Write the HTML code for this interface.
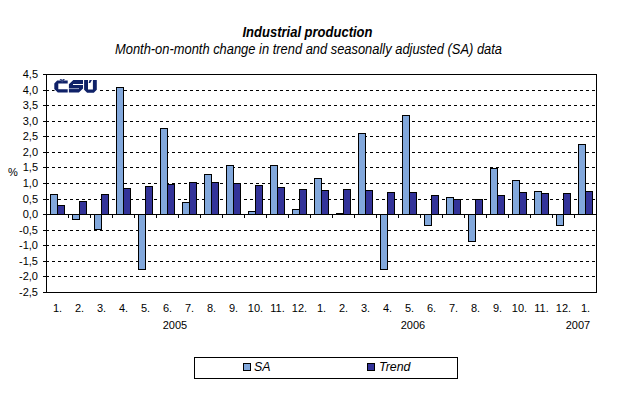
<!DOCTYPE html>
<html><head><meta charset="utf-8">
<style>
html,body{margin:0;padding:0;background:#fff;}
body{width:618px;height:397px;overflow:hidden;}
svg{display:block;}
text{font-family:"Liberation Sans",sans-serif;fill:#000;}
.ax{font-size:11px;}
.title{font-size:14.5px;font-weight:bold;font-style:italic;}
.sub{font-size:14px;font-style:italic;}
.leg{font-size:12.4px;font-style:italic;}
</style></head>
<body>
<svg width="618" height="397" viewBox="0 0 618 397">
<rect x="0" y="0" width="618" height="397" fill="#fff"/>
<g shape-rendering="crispEdges">
<line x1="46" y1="90.5" x2="596" y2="90.5" stroke="#000" stroke-width="1" stroke-dasharray="3 3"/>
<line x1="46" y1="105.5" x2="596" y2="105.5" stroke="#000" stroke-width="1" stroke-dasharray="3 3"/>
<line x1="46" y1="121.5" x2="596" y2="121.5" stroke="#000" stroke-width="1" stroke-dasharray="3 3"/>
<line x1="46" y1="136.5" x2="596" y2="136.5" stroke="#000" stroke-width="1" stroke-dasharray="3 3"/>
<line x1="46" y1="152.5" x2="596" y2="152.5" stroke="#000" stroke-width="1" stroke-dasharray="3 3"/>
<line x1="46" y1="167.5" x2="596" y2="167.5" stroke="#000" stroke-width="1" stroke-dasharray="3 3"/>
<line x1="46" y1="183.5" x2="596" y2="183.5" stroke="#000" stroke-width="1" stroke-dasharray="3 3"/>
<line x1="46" y1="199.5" x2="596" y2="199.5" stroke="#000" stroke-width="1" stroke-dasharray="3 3"/>
<line x1="46" y1="230.5" x2="596" y2="230.5" stroke="#000" stroke-width="1" stroke-dasharray="3 3"/>
<line x1="46" y1="245.5" x2="596" y2="245.5" stroke="#000" stroke-width="1" stroke-dasharray="3 3"/>
<line x1="46" y1="261.5" x2="596" y2="261.5" stroke="#000" stroke-width="1" stroke-dasharray="3 3"/>
<line x1="46" y1="276.5" x2="596" y2="276.5" stroke="#000" stroke-width="1" stroke-dasharray="3 3"/>
<rect x="50" y="194" width="8" height="21" fill="#000"/>
<rect x="51" y="195" width="6" height="19" fill="#82a8dc"/>
<rect x="57" y="205" width="8" height="10" fill="#000"/>
<rect x="58" y="206" width="6" height="8" fill="#333399"/>
<rect x="72" y="214" width="8" height="6" fill="#000"/>
<rect x="73" y="215" width="6" height="4" fill="#82a8dc"/>
<rect x="79" y="201" width="8" height="14" fill="#000"/>
<rect x="80" y="202" width="6" height="12" fill="#333399"/>
<rect x="94" y="214" width="8" height="16" fill="#000"/>
<rect x="95" y="215" width="6" height="14" fill="#82a8dc"/>
<rect x="101" y="194" width="8" height="21" fill="#000"/>
<rect x="102" y="195" width="6" height="19" fill="#333399"/>
<rect x="116" y="87" width="8" height="128" fill="#000"/>
<rect x="117" y="88" width="6" height="126" fill="#82a8dc"/>
<rect x="123" y="188" width="8" height="27" fill="#000"/>
<rect x="124" y="189" width="6" height="25" fill="#333399"/>
<rect x="138" y="214" width="8" height="56" fill="#000"/>
<rect x="139" y="215" width="6" height="54" fill="#82a8dc"/>
<rect x="145" y="186" width="8" height="29" fill="#000"/>
<rect x="146" y="187" width="6" height="27" fill="#333399"/>
<rect x="160" y="128" width="8" height="87" fill="#000"/>
<rect x="161" y="129" width="6" height="85" fill="#82a8dc"/>
<rect x="167" y="184" width="8" height="31" fill="#000"/>
<rect x="168" y="185" width="6" height="29" fill="#333399"/>
<rect x="182" y="202" width="8" height="13" fill="#000"/>
<rect x="183" y="203" width="6" height="11" fill="#82a8dc"/>
<rect x="189" y="182" width="8" height="33" fill="#000"/>
<rect x="190" y="183" width="6" height="31" fill="#333399"/>
<rect x="204" y="174" width="8" height="41" fill="#000"/>
<rect x="205" y="175" width="6" height="39" fill="#82a8dc"/>
<rect x="211" y="182" width="8" height="33" fill="#000"/>
<rect x="212" y="183" width="6" height="31" fill="#333399"/>
<rect x="226" y="165" width="8" height="50" fill="#000"/>
<rect x="227" y="166" width="6" height="48" fill="#82a8dc"/>
<rect x="233" y="183" width="8" height="32" fill="#000"/>
<rect x="234" y="184" width="6" height="30" fill="#333399"/>
<rect x="248" y="211" width="8" height="4" fill="#000"/>
<rect x="249" y="212" width="6" height="2" fill="#82a8dc"/>
<rect x="255" y="185" width="8" height="30" fill="#000"/>
<rect x="256" y="186" width="6" height="28" fill="#333399"/>
<rect x="270" y="165" width="8" height="50" fill="#000"/>
<rect x="271" y="166" width="6" height="48" fill="#82a8dc"/>
<rect x="277" y="187" width="8" height="28" fill="#000"/>
<rect x="278" y="188" width="6" height="26" fill="#333399"/>
<rect x="292" y="209" width="8" height="6" fill="#000"/>
<rect x="293" y="210" width="6" height="4" fill="#82a8dc"/>
<rect x="299" y="189" width="8" height="26" fill="#000"/>
<rect x="300" y="190" width="6" height="24" fill="#333399"/>
<rect x="314" y="178" width="8" height="37" fill="#000"/>
<rect x="315" y="179" width="6" height="35" fill="#82a8dc"/>
<rect x="321" y="190" width="8" height="25" fill="#000"/>
<rect x="322" y="191" width="6" height="23" fill="#333399"/>
<rect x="336" y="213" width="8" height="2" fill="#000"/>
<rect x="343" y="189" width="8" height="26" fill="#000"/>
<rect x="344" y="190" width="6" height="24" fill="#333399"/>
<rect x="358" y="133" width="8" height="82" fill="#000"/>
<rect x="359" y="134" width="6" height="80" fill="#82a8dc"/>
<rect x="365" y="190" width="8" height="25" fill="#000"/>
<rect x="366" y="191" width="6" height="23" fill="#333399"/>
<rect x="380" y="214" width="8" height="56" fill="#000"/>
<rect x="381" y="215" width="6" height="54" fill="#82a8dc"/>
<rect x="387" y="192" width="8" height="23" fill="#000"/>
<rect x="388" y="193" width="6" height="21" fill="#333399"/>
<rect x="402" y="115" width="8" height="100" fill="#000"/>
<rect x="403" y="116" width="6" height="98" fill="#82a8dc"/>
<rect x="409" y="192" width="8" height="23" fill="#000"/>
<rect x="410" y="193" width="6" height="21" fill="#333399"/>
<rect x="424" y="214" width="8" height="12" fill="#000"/>
<rect x="425" y="215" width="6" height="10" fill="#82a8dc"/>
<rect x="431" y="195" width="8" height="20" fill="#000"/>
<rect x="432" y="196" width="6" height="18" fill="#333399"/>
<rect x="446" y="197" width="8" height="18" fill="#000"/>
<rect x="447" y="198" width="6" height="16" fill="#82a8dc"/>
<rect x="453" y="199" width="8" height="16" fill="#000"/>
<rect x="454" y="200" width="6" height="14" fill="#333399"/>
<rect x="468" y="214" width="8" height="28" fill="#000"/>
<rect x="469" y="215" width="6" height="26" fill="#82a8dc"/>
<rect x="475" y="199" width="8" height="16" fill="#000"/>
<rect x="476" y="200" width="6" height="14" fill="#333399"/>
<rect x="490" y="168" width="8" height="47" fill="#000"/>
<rect x="491" y="169" width="6" height="45" fill="#82a8dc"/>
<rect x="497" y="195" width="8" height="20" fill="#000"/>
<rect x="498" y="196" width="6" height="18" fill="#333399"/>
<rect x="512" y="180" width="8" height="35" fill="#000"/>
<rect x="513" y="181" width="6" height="33" fill="#82a8dc"/>
<rect x="519" y="192" width="8" height="23" fill="#000"/>
<rect x="520" y="193" width="6" height="21" fill="#333399"/>
<rect x="534" y="191" width="8" height="24" fill="#000"/>
<rect x="535" y="192" width="6" height="22" fill="#82a8dc"/>
<rect x="541" y="193" width="8" height="22" fill="#000"/>
<rect x="542" y="194" width="6" height="20" fill="#333399"/>
<rect x="556" y="214" width="8" height="12" fill="#000"/>
<rect x="557" y="215" width="6" height="10" fill="#82a8dc"/>
<rect x="563" y="193" width="8" height="22" fill="#000"/>
<rect x="564" y="194" width="6" height="20" fill="#333399"/>
<rect x="578" y="144" width="8" height="71" fill="#000"/>
<rect x="579" y="145" width="6" height="69" fill="#82a8dc"/>
<rect x="585" y="191" width="8" height="24" fill="#000"/>
<rect x="586" y="192" width="6" height="22" fill="#333399"/>
<rect x="46" y="74" width="551" height="1" fill="#000"/>
<rect x="46" y="292" width="551" height="1" fill="#000"/>
<rect x="46" y="74" width="1" height="219" fill="#000"/>
<rect x="596" y="74" width="1" height="219" fill="#000"/>
<rect x="46" y="214" width="551" height="1" fill="#000"/>
<rect x="43" y="74" width="3" height="1" fill="#000"/>
<rect x="43" y="90" width="3" height="1" fill="#000"/>
<rect x="43" y="105" width="3" height="1" fill="#000"/>
<rect x="43" y="121" width="3" height="1" fill="#000"/>
<rect x="43" y="136" width="3" height="1" fill="#000"/>
<rect x="43" y="152" width="3" height="1" fill="#000"/>
<rect x="43" y="167" width="3" height="1" fill="#000"/>
<rect x="43" y="183" width="3" height="1" fill="#000"/>
<rect x="43" y="199" width="3" height="1" fill="#000"/>
<rect x="43" y="214" width="3" height="1" fill="#000"/>
<rect x="43" y="230" width="3" height="1" fill="#000"/>
<rect x="43" y="245" width="3" height="1" fill="#000"/>
<rect x="43" y="261" width="3" height="1" fill="#000"/>
<rect x="43" y="276" width="3" height="1" fill="#000"/>
<rect x="43" y="292" width="3" height="1" fill="#000"/>
<rect x="68" y="215" width="1" height="3" fill="#000"/>
<rect x="90" y="215" width="1" height="3" fill="#000"/>
<rect x="112" y="215" width="1" height="3" fill="#000"/>
<rect x="134" y="215" width="1" height="3" fill="#000"/>
<rect x="156" y="215" width="1" height="3" fill="#000"/>
<rect x="178" y="215" width="1" height="3" fill="#000"/>
<rect x="200" y="215" width="1" height="3" fill="#000"/>
<rect x="222" y="215" width="1" height="3" fill="#000"/>
<rect x="244" y="215" width="1" height="3" fill="#000"/>
<rect x="266" y="215" width="1" height="3" fill="#000"/>
<rect x="288" y="215" width="1" height="3" fill="#000"/>
<rect x="310" y="215" width="1" height="3" fill="#000"/>
<rect x="332" y="215" width="1" height="3" fill="#000"/>
<rect x="354" y="215" width="1" height="3" fill="#000"/>
<rect x="376" y="215" width="1" height="3" fill="#000"/>
<rect x="398" y="215" width="1" height="3" fill="#000"/>
<rect x="420" y="215" width="1" height="3" fill="#000"/>
<rect x="442" y="215" width="1" height="3" fill="#000"/>
<rect x="464" y="215" width="1" height="3" fill="#000"/>
<rect x="486" y="215" width="1" height="3" fill="#000"/>
<rect x="508" y="215" width="1" height="3" fill="#000"/>
<rect x="530" y="215" width="1" height="3" fill="#000"/>
<rect x="552" y="215" width="1" height="3" fill="#000"/>
<rect x="574" y="215" width="1" height="3" fill="#000"/>
<rect x="194" y="357" width="264" height="22" fill="#000"/>
<rect x="195" y="358" width="262" height="20" fill="#fff"/>
<rect x="243" y="363" width="8" height="8" fill="#000"/>
<rect x="244" y="364" width="6" height="6" fill="#82a8dc"/>
<rect x="367" y="363" width="8" height="8" fill="#000"/>
<rect x="368" y="364" width="6" height="6" fill="#333399"/>
</g>
<rect x="54.5" y="79" width="42.5" height="14" fill="#fff"/>
<g fill="#0f2168">
<path d="M57.2 80.4 L67.7 80.4 L67.7 83.6 L58.3 83.6 L58.3 89.2 L67.7 89.2 L67.7 92.6 L57.8 92.6 L54.3 89.1 L54.3 83.6 Z"/>
<path d="M59.6 79 L61.4 79 L62.2 80 L63.0 79 L64.9 79 L62.6 82.6 L61.9 82.6 Z" fill="#34437f"/>
<path d="M73.3 80 L83 80 L83 84 L73 84 L73 85 L83 85 L83 88.6 L78.9 92.6 L68.9 92.6 L68.9 89.1 L78.9 89.1 L78.9 88.1 L68.9 88.1 L68.9 84.3 Z"/>
<rect x="68.9" y="88.1" width="10" height="1" fill="#7d88b0"/>
<path d="M84.1 80 L88 80 L88 89.4 L92.9 89.4 L92.9 80 L96.8 80 L96.8 89.8 L93.8 92.8 L87.1 92.8 L84.1 89.8 Z"/>
<path d="M89.5 80 L92.0 80 L90.2 83 L88.7 83 Z"/>
</g>
<text x="38" y="78" text-anchor="end" class="ax">4,5</text>
<text x="38" y="94" text-anchor="end" class="ax">4,0</text>
<text x="38" y="109" text-anchor="end" class="ax">3,5</text>
<text x="38" y="125" text-anchor="end" class="ax">3,0</text>
<text x="38" y="140" text-anchor="end" class="ax">2,5</text>
<text x="38" y="156" text-anchor="end" class="ax">2,0</text>
<text x="38" y="171" text-anchor="end" class="ax">1,5</text>
<text x="38" y="187" text-anchor="end" class="ax">1,0</text>
<text x="38" y="203" text-anchor="end" class="ax">0,5</text>
<text x="38" y="218" text-anchor="end" class="ax">0,0</text>
<text x="38" y="234" text-anchor="end" class="ax">-0,5</text>
<text x="38" y="249" text-anchor="end" class="ax">-1,0</text>
<text x="38" y="265" text-anchor="end" class="ax">-1,5</text>
<text x="38" y="280" text-anchor="end" class="ax">-2,0</text>
<text x="38" y="296" text-anchor="end" class="ax">-2,5</text>
<text x="57.5" y="312" text-anchor="middle" class="ax">1.</text>
<text x="79.5" y="312" text-anchor="middle" class="ax">2.</text>
<text x="101.5" y="312" text-anchor="middle" class="ax">3.</text>
<text x="123.5" y="312" text-anchor="middle" class="ax">4.</text>
<text x="145.5" y="312" text-anchor="middle" class="ax">5.</text>
<text x="167.5" y="312" text-anchor="middle" class="ax">6.</text>
<text x="189.5" y="312" text-anchor="middle" class="ax">7.</text>
<text x="211.5" y="312" text-anchor="middle" class="ax">8.</text>
<text x="233.5" y="312" text-anchor="middle" class="ax">9.</text>
<text x="255.5" y="312" text-anchor="middle" class="ax">10.</text>
<text x="277.5" y="312" text-anchor="middle" class="ax">11.</text>
<text x="299.5" y="312" text-anchor="middle" class="ax">12.</text>
<text x="321.5" y="312" text-anchor="middle" class="ax">1.</text>
<text x="343.5" y="312" text-anchor="middle" class="ax">2.</text>
<text x="365.5" y="312" text-anchor="middle" class="ax">3.</text>
<text x="387.5" y="312" text-anchor="middle" class="ax">4.</text>
<text x="409.5" y="312" text-anchor="middle" class="ax">5.</text>
<text x="431.5" y="312" text-anchor="middle" class="ax">6.</text>
<text x="453.5" y="312" text-anchor="middle" class="ax">7.</text>
<text x="475.5" y="312" text-anchor="middle" class="ax">8.</text>
<text x="497.5" y="312" text-anchor="middle" class="ax">9.</text>
<text x="519.5" y="312" text-anchor="middle" class="ax">10.</text>
<text x="541.5" y="312" text-anchor="middle" class="ax">11.</text>
<text x="563.5" y="312" text-anchor="middle" class="ax">12.</text>
<text x="585.5" y="312" text-anchor="middle" class="ax">1.</text>
<text x="175" y="329" text-anchor="middle" class="ax">2005</text>
<text x="413" y="329" text-anchor="middle" class="ax">2006</text>
<text x="578" y="329" text-anchor="middle" class="ax">2007</text>
<text x="13" y="176" text-anchor="middle" class="ax">%</text>
<text x="307.5" y="37" text-anchor="middle" class="title" textLength="130" lengthAdjust="spacingAndGlyphs">Industrial production</text>
<text x="308.5" y="53.5" text-anchor="middle" class="sub" textLength="387" lengthAdjust="spacingAndGlyphs">Month-on-month change in trend and seasonally adjusted (SA) data</text>
<text x="254" y="370.5" class="leg">SA</text>
<text x="379" y="370.5" class="leg">Trend</text>
</svg>
</body></html>
